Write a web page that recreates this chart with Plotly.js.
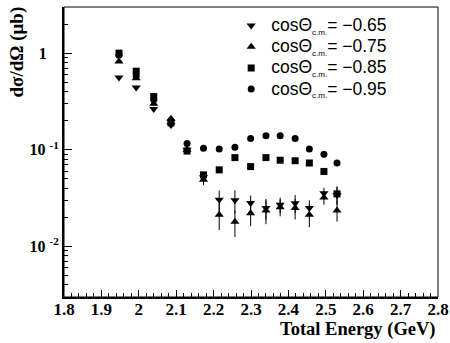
<!DOCTYPE html>
<html>
<head>
<meta charset="utf-8">
<script src="https://cdn.plot.ly/plotly-3.0.1.min.js"></script>
<style>html,body{margin:0;padding:0;background:#fff;}#chart{width:450px;height:343px;}</style>
</head>
<body>
<div id="chart"></div>
<script>
// Total energy (GeV) of each measurement
const energy = [1.947, 1.993, 2.040, 2.086, 2.129, 2.173, 2.215, 2.257, 2.299, 2.340, 2.378, 2.418, 2.456, 2.495, 2.530];

// dσ/dΩ (μb) for each cosΘ_c.m. bin
const cs065 = [0.56, 0.44, 0.264, 0.18, 0.100, 0.052, 0.0304, 0.0300, 0.0281, 0.0250, 0.0270, 0.0280, 0.0250, 0.0355, 0.0340];
const err065 = [0.02, 0.015, 0.01, 0.007, 0.004, 0.005, 0.0075, 0.0080, 0.0055, 0.0060, 0.0050, 0.0060, 0.0050, 0.0050, 0.0070];
const cs075 = [0.82, 0.55, 0.30, 0.21, 0.100, 0.049, 0.0213, 0.0180, 0.0221, 0.0235, 0.0255, 0.0250, 0.0213, 0.0320, 0.0236];
const err075 = [0.03, 0.02, 0.012, 0.008, 0.004, 0.006, 0.0065, 0.0055, 0.0058, 0.0065, 0.0050, 0.0060, 0.0055, 0.0050, 0.0055];
const cs085 = [1.00, 0.65, 0.355, 0.19, 0.097, 0.055, 0.062, 0.083, 0.067, 0.083, 0.078, 0.077, 0.073, 0.0597, 0.035];
const err085 = [0.03, 0.02, 0.012, 0.007, 0.004, 0.003, 0.003, 0.003, 0.003, 0.003, 0.003, 0.003, 0.003, 0.003, 0.007];
const cs095 = [0.95, 0.58, 0.33, 0.20, 0.116, 0.104, 0.102, 0.106, 0.131, 0.140, 0.140, 0.131, 0.102, 0.090, 0.073];
const err095 = [0.03, 0.02, 0.012, 0.007, 0.004, 0.003, 0.003, 0.003, 0.004, 0.004, 0.004, 0.004, 0.003, 0.003, 0.003];

const cosLabels = ["−0.65", "−0.75", "−0.85", "−0.95"];

// axis ticks
const xTicks = [1.8, 1.9, 2.0, 2.1, 2.2, 2.3, 2.4, 2.5, 2.6, 2.7, 2.8];
const yTickVals = [0.01, 0.1, 1];
const yTickText = ["10 <sup>-2</sup>", "10 <sup>-1</sup>", "1\u00a0\u00a0\u00a0"];
const yMinorVals = [0.003, 0.004, 0.005, 0.006, 0.007, 0.008, 0.009,
                    0.02, 0.03, 0.04, 0.05, 0.06, 0.07, 0.08, 0.09,
                    0.2, 0.3, 0.4, 0.5, 0.6, 0.7, 0.8, 0.9, 2, 3];

function legendName(c) {
  return '<span style="font-size:17.5px">cosΘ<sub><span style="font-size:8px">c.m.</span></sub>= ' + c + '</span>';
}

function series(y, err, symbol, size, rank, label) {
  return {
    x: energy, y: y, type: 'scatter', mode: 'markers',
    name: legendName(label), legendrank: rank,
    marker: {symbol: symbol, size: size, color: '#000'},
    error_y: {type: 'data', array: err, visible: true, color: '#000', thickness: 1, width: 0}
  };
}

const data = [
  series(cs095, err095, 'circle', 7, 4, cosLabels[3]),
  series(cs065, err065, 'triangle-down', 8, 1, cosLabels[0]),
  series(cs075, err075, 'triangle-up', 8, 2, cosLabels[1]),
  series(cs085, err085, 'square', 7, 3, cosLabels[2])
];

const serifFont = 'Liberation Serif';

const layout = {
  width: 450, height: 343,
  margin: {l: 64, r: 12, t: 7, b: 46, pad: 0},
  paper_bgcolor: '#fff', plot_bgcolor: '#fff',
  showlegend: true,
  legend: {
    x: 0.447, y: 0.99, xanchor: 'left', yanchor: 'top',
    bgcolor: 'rgba(0,0,0,0)', borderwidth: 0,
    font: {family: 'Liberation Sans', size: 14, color: '#000'},
    tracegroupgap: 0, itemwidth: 30
  },
  xaxis: {
    range: [1.8, 2.8], tickmode: 'array', tickvals: xTicks,
    ticks: 'inside', ticklen: 7, tickwidth: 1, tickcolor: '#000',
    showline: true, linewidth: 2, linecolor: '#000', mirror: false,
    showgrid: false, zeroline: false, ticklabelstandoff: -4,
    tickfont: {family: serifFont, size: 17, color: '#000', weight: 'bold'},
    minor: {dtick: 0.02, tick0: 1.8, ticks: 'inside', ticklen: 4, tickwidth: 1, tickcolor: '#000', showgrid: false}
  },
  yaxis: {
    type: 'log', range: [Math.log10(0.003), Math.log10(3)],
    tickmode: 'array', tickvals: yTickVals, ticktext: yTickText,
    ticks: 'inside', ticklen: 8, tickwidth: 1, tickcolor: '#000',
    showline: true, linewidth: 2, linecolor: '#000', mirror: false,
    showgrid: false, zeroline: false,
    tickfont: {family: serifFont, size: 16, color: '#000', weight: 'bold'},
    minor: {tickmode: 'array', tickvals: yMinorVals, ticks: 'inside', ticklen: 4, tickwidth: 1, tickcolor: '#000', showgrid: false}
  },
  shapes: [{type: 'rect', xref: 'paper', yref: 'paper', x0: 0, x1: 1, y0: 0, y1: 1,
            line: {color: '#000', width: 1}, fillcolor: 'rgba(0,0,0,0)', layer: 'above'}],
  annotations: [
    {text: 'Total Energy (GeV)', xref: 'paper', yref: 'paper', x: 1.0, y: -0.07,
     xanchor: 'right', yanchor: 'top', showarrow: false,
     font: {family: serifFont, size: 18.5, color: '#000', weight: 'bold'}},
    {text: 'dσ/dΩ (μb)', xref: 'paper', yref: 'paper', x: -0.126, y: 1.01,
     xanchor: 'center', yanchor: 'top', textangle: -90, showarrow: false,
     font: {family: serifFont, size: 19, color: '#000', weight: 'bold'}}
  ]
};

Plotly.newPlot('chart', data, layout, {staticPlot: true, displayModeBar: false});
</script>
</body>
</html>
